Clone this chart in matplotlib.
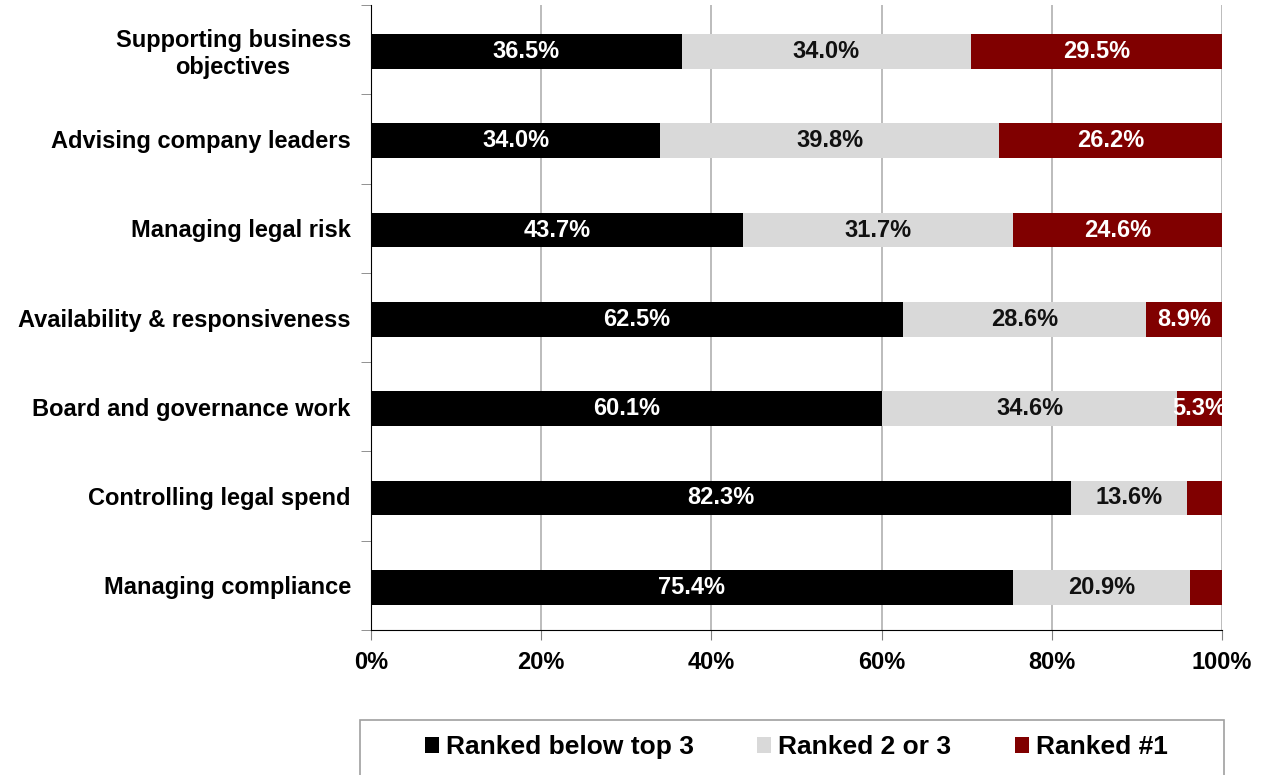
import numpy as np
import matplotlib
matplotlib.use("Agg")
import matplotlib.pyplot as plt
from matplotlib.ticker import FuncFormatter
from matplotlib.patches import Rectangle

plt.rcParams['font.family'] = ['Liberation Sans', 'DejaVu Sans']
plt.rcParams['font.weight'] = 'bold'

categories = ["Supporting business\nobjectives", "Advising company leaders", "Managing legal risk",
              "Availability & responsiveness", "Board and governance work",
              "Controlling legal spend", "Managing compliance"]
below_top3 = [36.5, 34.0, 43.7, 62.5, 60.1, 82.3, 75.4]
ranked_2_3 = [34.0, 39.8, 31.7, 28.6, 34.6, 13.6, 20.9]
ranked_1 = [29.5, 26.2, 24.6, 8.9, 5.3, 4.1, 3.7]
show_label_1 = [True, True, True, True, True, False, False]
series_names = ["Ranked below top 3", "Ranked 2 or 3", "Ranked #1"]
colors = ["#000000", "#d9d9d9", "#800000"]
text_colors = ["white", "#111111", "white"]


def main():
    fig = plt.figure(figsize=(12.63, 7.75), dpi=100)
    ax = fig.add_axes([0.2937, 0.187, 0.6738, 0.8065])
    y = np.arange(len(categories))
    left = np.zeros(len(categories))
    series = [below_top3, ranked_2_3, ranked_1]
    for k, vals in enumerate(series):
        vals = np.array(vals)
        ax.barh(y + 0.02, vals, left=left, height=0.39, color=colors[k], label=series_names[k], zorder=3)
        for i, v in enumerate(vals):
            if k == 2 and not show_label_1[i]:
                continue
            ax.text(left[i] + v / 2, y[i] + 0.02, "%.1f%%" % v, ha='center', va='center',
                    color=text_colors[k], fontsize=17, fontweight='bold', zorder=4, clip_on=False)
        left += vals

    ax.set_xlim(0, 100)
    ax.set_ylim(len(categories) - 0.5, -0.5)
    ax.set_xticks([0, 20, 40, 60, 80, 100])
    ax.xaxis.set_major_formatter(FuncFormatter(lambda v, p: "%d%%" % v))
    ax.set_yticks(y)
    ax.set_yticklabels(categories, fontsize=17, fontweight='bold', ha='right')
    for lab in ax.get_yticklabels():
        lab.set_multialignment('center')
    ax.set_yticks(np.arange(-0.5, len(categories), 1), minor=True)
    ax.tick_params(axis='y', which='major', length=0, pad=14.5)
    ax.tick_params(axis='y', which='minor', length=7, color='#808080', direction='out')
    ax.tick_params(axis='x', length=7, color='#808080', labelsize=17, pad=8)
    ax.grid(axis='x', color='#b0b0b0', linewidth=1.2, zorder=0)
    ax.spines['top'].set_visible(False)
    ax.spines['right'].set_visible(False)
    ax.spines['left'].set_color('black')
    ax.spines['bottom'].set_color('black')

    # legend frame runs off the bottom of the figure
    fig.patches.append(Rectangle((360 / 1263, -0.02), 864 / 1263, 0.02 + 55 / 775,
                                 transform=fig.transFigure, facecolor='none',
                                 edgecolor='#a0a0a0', linewidth=1.2))
    fig.legend(loc='center', bbox_to_anchor=(796 / 1263, 1 - 747 / 775), ncol=3, frameon=False,
               handlelength=0.55, handleheight=0.55, handletextpad=0.25, columnspacing=2.4,
               prop={'size': 19, 'weight': 'bold'})

    fig.savefig("out.png", dpi=100)


main()
